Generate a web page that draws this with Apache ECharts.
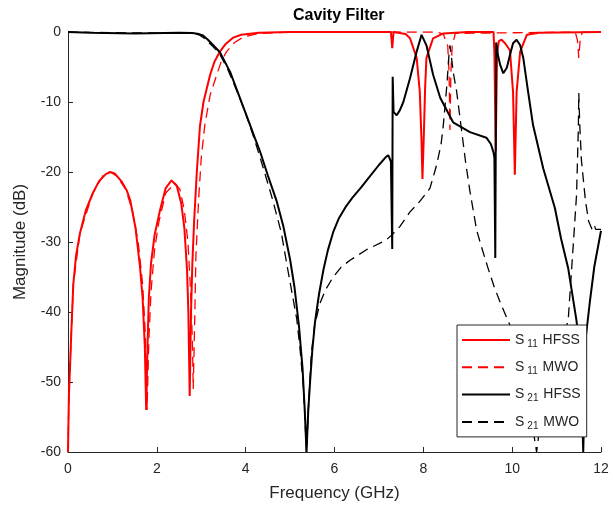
<!DOCTYPE html>
<html>
<head>
<meta charset="utf-8">
<script src="https://cdn.jsdelivr.net/npm/echarts@6/dist/echarts.min.js"></script>
<style>
html,body{margin:0;padding:0;background:#fff;}
#chart{width:613px;height:508px;}
</style>
</head>
<body>
<div id="chart"></div>
<script>
// ---- data (frequency GHz, magnitude dB) ----
const xTicks = [0, 2, 4, 6, 8, 10, 12];
const yTicks = [-60, -50, -40, -30, -20, -10, 0];
const seriesNames = ['S11 HFSS', 'S11 MWO', 'S21 HFSS', 'S21 MWO'];

const s11Hfss = [
  [0,-60],[0.02,-52],[0.045,-48],[0.08,-42],[0.12,-36],[0.18,-32],[0.27,-28.7],[0.4,-25.5],
  [0.56,-23],[0.7,-21.3],[0.85,-20.3],[0.95,-20],[1.05,-20.2],[1.2,-21.3],[1.32,-22.6],[1.4,-24],
  [1.52,-28],[1.62,-33.5],[1.68,-38],[1.73,-45],[1.76,-54],[1.79,-45],[1.82,-38],[1.87,-33],
  [1.95,-29],[2.07,-25.5],[2.2,-22.3],[2.33,-21.2],[2.45,-22],[2.55,-24.5],[2.62,-28],[2.68,-34],
  [2.71,-40],[2.74,-52],[2.77,-40],[2.8,-33],[2.84,-27],[2.9,-20],[2.97,-13.5],[3.05,-10],
  [3.2,-6.1],[3.3,-4.2],[3.42,-2.8],[3.55,-1.7],[3.72,-0.8],[3.9,-0.4],[4.3,-0.1],[5,0],
  [7.27,0],[7.3,-2.3],[7.33,0],[7.6,-0.3],[7.7,-0.9],[7.85,-3.7],[7.92,-8.5],[7.96,-15.7],
  [7.98,-21],[8.01,-15],[8.04,-8],[8.07,-3.7],[8.22,-0.9],[8.45,-0.2],[9,0],[9.58,0],
  [9.6,-3],[9.63,-17],[9.66,-3],[9.7,-1.3],[9.76,-1.1],[9.84,-1.6],[9.95,-2.6],[10.02,-8.6],
  [10.06,-20.4],[10.1,-8.6],[10.18,-2.8],[10.33,-0.4],[10.6,-0.1],[12,0]
];

const s11Mwo = [
  [0,-60],[0.02,-52],[0.05,-47],[0.12,-36],[0.27,-28.7],[0.56,-23],[0.8,-20.4],[0.95,-20],
  [1.1,-20.6],[1.3,-22.5],[1.45,-25.5],[1.58,-30],[1.68,-36],[1.74,-43],[1.78,-54],[1.82,-44],
  [1.87,-37],[1.95,-31],[2.05,-27],[2.2,-23],[2.41,-21.6],[2.52,-22.5],[2.62,-25.5],[2.7,-30],
  [2.76,-37],[2.8,-44],[2.82,-51],[2.85,-42],[2.88,-32],[2.94,-24],[3.0,-18],[3.08,-13.3],
  [3.2,-9],[3.35,-6.1],[3.45,-4.2],[3.57,-2.8],[3.75,-1.5],[3.95,-0.7],[4.3,-0.2],[5,0],
  [8.3,0],[8.45,-0.3],[8.55,-2],[8.58,-6],[8.6,-14],[8.62,-6],[8.65,-2],[8.72,-0.2],
  [11.42,0],[11.47,-1.2],[11.5,-3.7],[11.53,-1.2],[11.58,0],[12,0]
];

const s21Hfss = [
  [0,0],[0.5,-0.1],[1.5,-0.2],[2.5,-0.1],[2.8,-0.15],[2.95,-0.3],[3.04,-0.5],[3.15,-1.1],
  [3.27,-1.9],[3.42,-2.9],[3.65,-5.7],[3.87,-9.4],[4.1,-13.3],[4.21,-15.2],[4.32,-17],[4.5,-20.5],
  [4.7,-24.2],[4.85,-27.8],[5.0,-32.5],[5.1,-36.5],[5.2,-42],[5.28,-48],[5.33,-54],[5.37,-60],
  [5.41,-54],[5.45,-50],[5.5,-45.5],[5.56,-41.5],[5.65,-37.5],[5.75,-34],[5.85,-31.2],[5.97,-28.6],
  [6.1,-26.6],[6.25,-25],[6.4,-23.7],[6.6,-22.2],[6.8,-20.6],[7.0,-19],[7.15,-17.9],[7.21,-17.6],
  [7.27,-18.5],[7.3,-31],[7.31,-6.4],[7.33,-11.4],
  [7.4,-11.9],[7.47,-11.2],[7.55,-10],[7.7,-6.6],[7.85,-2.8],[7.96,-0.4],[8.07,-1.9],[8.22,-6.1],
  [8.38,-9.4],[8.67,-12.9],[9.05,-14.3],[9.42,-15.1],[9.52,-16],[9.58,-17.2],[9.6,-18],[9.62,-32.3],
  [9.64,-1.5],[9.68,-3.3],[9.73,-4.7],[9.8,-5.9],[9.88,-5.1],[9.95,-3.3],[10.02,-1.6],[10.1,-1.1],
  [10.18,-1.9],[10.25,-3.7],[10.36,-8.6],[10.47,-13.3],[10.7,-19.5],[10.96,-25.1],[11.1,-29.5],[11.26,-33.7],
  [11.45,-41.3],[11.52,-46],[11.57,-53],[11.6,-60],[11.63,-52],[11.66,-43.5],[11.75,-38.5],[11.85,-33.5],
  [12,-28.4]
];

const s21Mwo = [
  [0,0],[1,-0.1],[2,-0.15],[2.8,-0.2],[2.95,-0.4],[3.05,-0.8],[3.15,-1.4],[3.27,-2.1],
  [3.42,-3.2],[3.6,-5.4],[3.8,-8.4],[4.0,-11.6],[4.2,-15.4],[4.4,-19.5],[4.6,-23.8],[4.8,-28.6],
  [4.95,-34],[5.05,-37.5],[5.15,-41],[5.22,-45],[5.3,-50.7],[5.34,-56],[5.37,-60],[5.41,-54],
  [5.48,-45.9],[5.55,-42],[5.67,-38.8],[5.8,-36.8],[5.97,-35],[6.15,-33.6],[6.35,-32.6],[6.72,-31.1],
  [7.17,-29.7],[7.32,-28.8],[7.47,-27.8],[7.7,-25.7],[7.92,-24.2],[8.15,-22.3],[8.3,-19],[8.4,-16],
  [8.45,-13.3],[8.53,-7.6],[8.58,-3],[8.6,-1.9],[8.63,-3.5],[8.68,-6],[8.75,-8.5],[8.85,-13.5],
  [8.95,-18.5],[9.05,-22.8],[9.2,-28.3],[9.3,-30.5],[9.46,-33.8],[9.6,-36.5],[9.73,-38.6],[9.95,-41.9],
  [10.15,-45.5],[10.3,-49.5],[10.42,-54],[10.5,-58],[10.55,-60],[10.65,-55],[10.85,-49],[11.05,-45],
  [11.26,-41.3],[11.3,-37.5],[11.38,-30],[11.45,-23.2],[11.49,-13.7],[11.5,-8.7],[11.52,-13],[11.56,-18.4],
  [11.65,-24.1],[11.72,-27],[11.8,-28.2],[11.85,-27.6],[11.88,-28.2],[12,-28.2]
];

// ---- chart ----
const chart = echarts.init(document.getElementById('chart'), null, {renderer: 'canvas'});
const FONT = 'Liberation Sans, Arial, Helvetica, sans-serif';
const AX = '#262626';

function mk(name, data, color, dashed) {
  return {
    name: name, type: 'line', data: data,
    showSymbol: false, symbol: 'none', smooth: false,
    animation: false, clip: true,
    lineStyle: {color: color, width: dashed ? 1.3 : 2, type: dashed ? [10, 6] : 'solid'},
    itemStyle: {color: color},
    emphasis: {disabled: true}
  };
}

const subMap = {'S11': '11', 'S21': '21'};

chart.setOption({
  animation: false,
  backgroundColor: '#fff',
  title: {
    text: 'Cavity Filter', left: 288, top: 3,
    textStyle: {fontFamily: FONT, fontSize: 16, fontWeight: 'bold', color: '#000'}
  },
  grid: {left: 68, right: 12, top: 32, bottom: 56, containLabel: false, outerBoundsMode: 'none'},
  legend: {
    orient: 'vertical', left: 457, top: 325,
    width: 130,
    backgroundColor: '#fff', borderColor: AX, borderWidth: 1, borderRadius: 0,
    padding: [5, 6, 6, 4],
    itemWidth: 48, itemHeight: 18, itemGap: 8.3,
    itemStyle: {opacity: 0, color: 'rgba(0,0,0,0)', borderColor: 'rgba(0,0,0,0)', borderWidth: 0},
    data: seriesNames,
    formatter: function (n) {
      const p = n.split(' ');
      return '{m|S}{s|' + subMap[p[0]] + '}{m| ' + p[1] + '}';
    },
    textStyle: {
      fontFamily: FONT, fontSize: 14, color: AX,
      rich: {
        m: {fontFamily: FONT, fontSize: 14, color: AX, lineHeight: 18, verticalAlign: 'middle'},
        s: {fontFamily: FONT, fontSize: 10, color: AX, lineHeight: 18, verticalAlign: 'bottom', padding: [9, 1, 0, 3]}
      }
    }
  },
  xAxis: {
    type: 'value', min: 0, max: 12, interval: 2,
    name: 'Frequency (GHz)', nameLocation: 'middle', nameGap: 33,
    nameTextStyle: {fontFamily: FONT, fontSize: 17, color: AX},
    axisLine: {show: true, onZero: false, lineStyle: {color: AX, width: 1}},
    axisTick: {show: true, inside: true, length: 5, lineStyle: {color: AX}},
    axisLabel: {fontFamily: FONT, fontSize: 14, color: AX, margin: 10},
    splitLine: {show: false}
  },
  yAxis: {
    type: 'value', min: -60, max: 0, interval: 10,
    name: 'Magnitude (dB)', nameLocation: 'middle', nameGap: 39, nameRotate: 90,
    nameTextStyle: {fontFamily: FONT, fontSize: 17, color: AX},
    axisLine: {show: true, onZero: false, lineStyle: {color: AX, width: 1}},
    axisTick: {show: true, inside: true, length: 5, lineStyle: {color: AX}},
    axisLabel: {fontFamily: FONT, fontSize: 14, color: AX, margin: 7},
    splitLine: {show: false}
  },
  series: [
    mk(seriesNames[0], s11Hfss, '#ff0000', false),
    mk(seriesNames[1], s11Mwo, '#ff0000', true),
    mk(seriesNames[2], s21Hfss, '#000000', false),
    mk(seriesNames[3], s21Mwo, '#000000', true)
  ]
});
</script>
</body>
</html>
